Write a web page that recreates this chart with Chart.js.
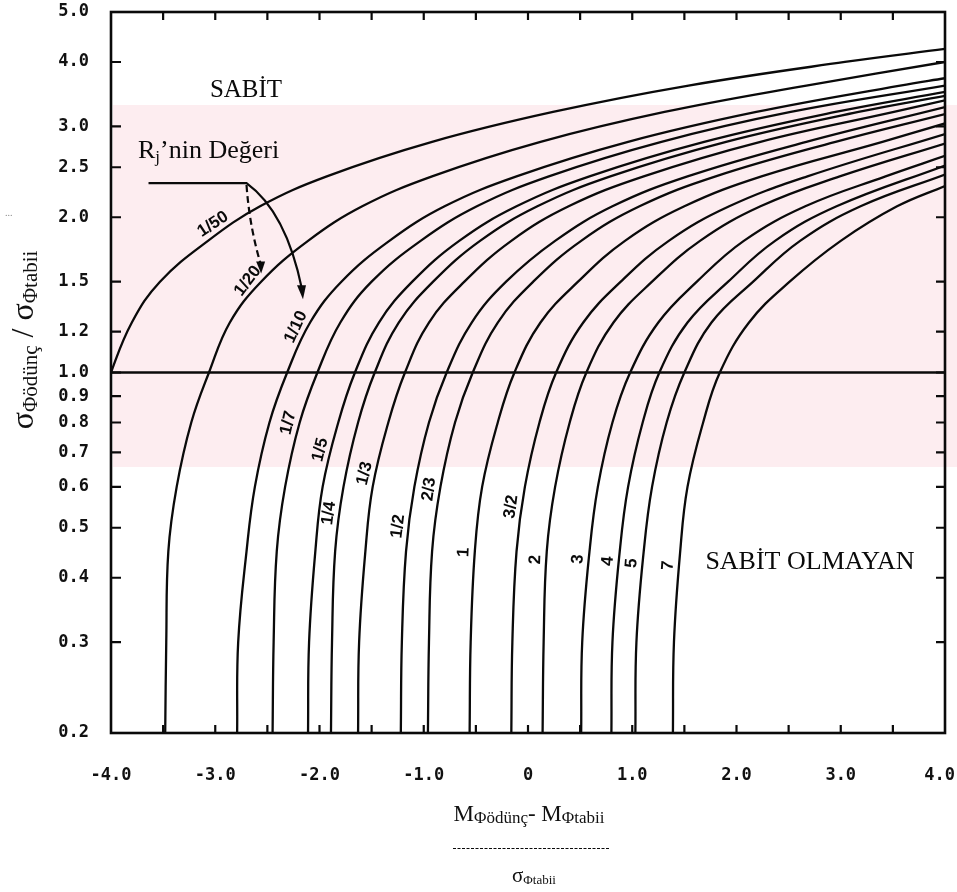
<!DOCTYPE html>
<html><head><meta charset="utf-8">
<script src="https://cdn.jsdelivr.net/npm/chart.js@4/dist/chart.umd.min.js"></script>
<style>html,body{margin:0;padding:0;background:#fff}#wrap{width:957px;height:892px}</style>
</head><body><div id="wrap"><canvas id="c" width="957" height="892"></canvas></div>
<script>
// ---- data ----
const rjLabels = ['1/50','1/20','1/10','1/7','1/5','1/4','1/3','1/2','2/3','1','3/2','2','3','4','5','7'];
const xTickValues = [-4,-3,-2,-1,0,1,2,3,4];
const xTickLabels = ['-4.0','-3.0','-2.0','-1.0','0','1.0','2.0','3.0','4.0'];
const xMinorTicks = [-3.5,-3,-2.5,-2,-1.5,-1,-0.5,0,0.5,1,1.5,2,2.5,3,3.5];
const yTickValues = [0.2,0.3,0.4,0.5,0.6,0.7,0.8,0.9,1.0,1.2,1.5,2.0,2.5,3.0,4.0,5.0];
const yTickLabels = ['0.2','0.3','0.4','0.5','0.6','0.7','0.8','0.9','1.0','1.2','1.5','2.0','2.5','3.0','4.0','5.0'];
const refLine = [[-4,1.0],[4,1.0]];

const rj_1_50 = [[-4.30,0.6],[-4.16,0.8],[-4.0,1.0],[-3.80,1.25],[-3.53,1.5],[-3.07,1.8],[-2.57,2.1],[-1.93,2.4],[-0.92,2.8],[0.24,3.2],[1.54,3.6],[3.04,4.0],[4.0,4.24]];
const rj_1_20 = [[-3.48,0.2],[-3.47,0.3],[-3.45,0.45],[-3.37,0.6],[-3.23,0.8],[-3.06,1.0],[-2.86,1.25],[-2.56,1.5],[-2.11,1.8],[-1.59,2.1],[-0.92,2.4],[0.12,2.8],[1.31,3.2],[2.67,3.6],[4.0,4.0]];
const rj_1_10 = [[-2.79,0.2],[-2.78,0.3],[-2.70,0.45],[-2.62,0.6],[-2.48,0.8],[-2.31,1.0],[-2.09,1.25],[-1.79,1.5],[-1.33,1.8],[-0.80,2.1],[-0.11,2.4],[0.96,2.8],[2.19,3.2],[3.57,3.6],[4.0,3.72]];
const rj_1_7 = [[-2.45,0.2],[-2.44,0.3],[-2.41,0.45],[-2.33,0.6],[-2.19,0.8],[-2.02,1.0],[-1.80,1.25],[-1.50,1.5],[-1.03,1.8],[-0.49,2.1],[0.20,2.4],[1.28,2.8],[2.52,3.2],[4.0,3.60]];
const rj_1_5 = [[-2.11,0.2],[-2.10,0.3],[-2.04,0.45],[-1.97,0.6],[-1.82,0.8],[-1.66,1.0],[-1.43,1.25],[-1.11,1.5],[-0.66,1.8],[-0.11,2.1],[0.59,2.4],[1.69,2.8],[2.95,3.2],[4.0,3.50]];
const rj_1_4 = [[-1.89,0.2],[-1.88,0.3],[-1.85,0.45],[-1.77,0.6],[-1.63,0.8],[-1.47,1.0],[-1.24,1.25],[-0.91,1.5],[-0.46,1.8],[0.09,2.1],[0.79,2.4],[1.90,2.8],[3.17,3.2],[4.0,3.44]];
const rj_1_3 = [[-1.63,0.2],[-1.62,0.3],[-1.56,0.45],[-1.49,0.6],[-1.34,0.8],[-1.18,1.0],[-0.95,1.25],[-0.61,1.5],[-0.16,1.8],[0.39,2.1],[1.11,2.4],[2.23,2.8],[3.51,3.2],[4.0,3.37]];
const rj_1_2 = [[-1.22,0.2],[-1.21,0.3],[-1.17,0.45],[-1.09,0.6],[-0.95,0.8],[-0.78,1.0],[-0.54,1.25],[-0.21,1.5],[0.26,1.8],[0.81,2.1],[1.53,2.4],[2.67,2.8],[4.0,3.27]];
const rj_2_3 = [[-0.96,0.2],[-0.95,0.3],[-0.92,0.45],[-0.84,0.6],[-0.70,0.8],[-0.53,1.0],[-0.29,1.25],[0.05,1.5],[0.51,1.8],[1.07,2.1],[1.80,2.4],[2.95,2.8],[4.0,3.17]];
const rj_1 = [[-0.56,0.2],[-0.55,0.3],[-0.51,0.45],[-0.44,0.6],[-0.29,0.8],[-0.13,1.0],[0.12,1.25],[0.48,1.5],[0.93,1.8],[1.50,2.1],[2.24,2.4],[3.40,2.8],[4.0,3.04]];
const rj_3_2 = [[-0.16,0.2],[-0.15,0.3],[-0.11,0.45],[-0.03,0.6],[0.11,0.8],[0.27,1.0],[0.53,1.25],[0.89,1.5],[1.35,1.8],[1.93,2.1],[2.68,2.4],[4.0,2.90]];
const rj_2 = [[0.14,0.2],[0.15,0.3],[0.18,0.45],[0.26,0.6],[0.40,0.8],[0.56,1.0],[0.82,1.25],[1.19,1.5],[1.65,1.8],[2.23,2.1],[2.99,2.4],[4.0,2.78]];
const rj_3 = [[0.51,0.2],[0.52,0.3],[0.59,0.45],[0.67,0.6],[0.81,0.8],[0.98,1.0],[1.25,1.25],[1.62,1.5],[2.07,1.8],[2.66,2.1],[3.43,2.4],[4.0,2.63]];
const rj_4 = [[0.80,0.2],[0.81,0.3],[0.88,0.45],[0.96,0.6],[1.10,0.8],[1.26,1.0],[1.53,1.25],[1.92,1.5],[2.37,1.8],[2.96,2.1],[4.0,2.52]];
const rj_5 = [[1.03,0.2],[1.04,0.3],[1.11,0.45],[1.19,0.6],[1.33,0.8],[1.50,1.0],[1.76,1.25],[2.16,1.5],[2.61,1.8],[3.19,2.1],[4.0,2.42]];
const rj_7 = [[1.39,0.2],[1.40,0.3],[1.46,0.45],[1.53,0.6],[1.68,0.8],[1.84,1.0],[2.12,1.25],[2.51,1.5],[3.00,1.8],[3.54,2.1],[4.0,2.30]];

const curves = [rj_1_50,rj_1_20,rj_1_10,rj_1_7,rj_1_5,rj_1_4,rj_1_3,rj_1_2,rj_2_3,rj_1,rj_3_2,rj_2,rj_3,rj_4,rj_5,rj_7];

// height (y value) at which each curve label sits beside its curve
const labelY = [1.86,1.46,1.20,0.79,0.70,0.53,0.63,0.50,0.59,0.447,0.546,0.433,0.433,0.429,0.425,0.421];

// ---- chart ----
const SERIF = '"Liberation Serif", "DejaVu Serif", serif';
const INK = '#0a0a0a';
const PINK = '#fdedf0';
const toPts = arr => arr.map(p => ({x:p[0], y:p[1]}));

const datasets = curves.map((c,i) => ({
  label: 'Rj = ' + rjLabels[i], data: toPts(c), showLine: true,
  borderColor: INK, borderWidth: 2.3, pointRadius: 0, tension: 0.4, fill: false
}));
datasets.push({label:'ref', data: toPts(refLine), showLine:true, borderColor:INK, borderWidth:2.3, pointRadius:0, tension:0});

function richText(ctx, parts, x, y, align) {
  let w = 0;
  parts.forEach(p => { ctx.font = p.font; p.w = ctx.measureText(p.t).width; w += p.w; });
  let cx = align === 'center' ? x - w/2 : (align === 'right' ? x - w : x);
  ctx.textAlign = 'left'; ctx.textBaseline = 'alphabetic';
  parts.forEach(p => { ctx.font = p.font; ctx.fillText(p.t, cx, y + (p.dy||0)); cx += p.w; });
}

// position on a curve (pixel) at a given y value, plus local direction
function onCurve(curve, yv, xs, ys) {
  for (let i = 0; i < curve.length - 1; i++) {
    const [x0,y0] = curve[i], [x1,y1] = curve[i+1];
    if (yv >= y0 && yv <= y1) {
      const t = (Math.log(yv) - Math.log(y0)) / (Math.log(y1) - Math.log(y0));
      const px0 = xs.getPixelForValue(x0), px1 = xs.getPixelForValue(x1);
      const py0 = ys.getPixelForValue(y0), py1 = ys.getPixelForValue(y1);
      return {px: px0 + t*(px1-px0), py: ys.getPixelForValue(yv), ang: Math.atan2(py1-py0, px1-px0)};
    }
  }
  return null;
}

const watermark = {
  id: 'watermark',
  beforeDatasetsDraw(chart) {
    const {ctx} = chart;
    ctx.save(); ctx.fillStyle = PINK; ctx.fillRect(113, 105, 844, 362); ctx.restore();
  }
};

const decor = {
  id: 'decor',
  afterDatasetsDraw(chart) {
    const {ctx, chartArea:a, scales:{x, y}} = chart;
    ctx.save();
    ctx.strokeStyle = INK; ctx.fillStyle = INK;

    // curve labels written just beside (left of) their curves
    ctx.font = 'bold 17px "Liberation Sans", sans-serif';
    rjLabels.forEach((t,i) => {
      const p = onCurve(curves[i], labelY[i], x, y);
      if (!p) return;
      ctx.save(); ctx.translate(p.px, p.py); ctx.rotate(p.ang);
      ctx.textAlign = 'center'; ctx.textBaseline = 'middle';
      ctx.fillText(t, 0, -11); ctx.restore();
    });

    // frame and inward ticks
    ctx.lineWidth = 2.6;
    ctx.strokeRect(a.left, a.top, a.right - a.left, a.bottom - a.top);
    ctx.lineWidth = 2.2;
    ctx.beginPath();
    yTickValues.forEach(v => {
      if (v <= 0.2 || v >= 5) return;
      const py = y.getPixelForValue(v);
      ctx.moveTo(a.left, py); ctx.lineTo(a.left + 10, py);
      ctx.moveTo(a.right, py); ctx.lineTo(a.right - 9, py);
    });
    xMinorTicks.forEach(v => {
      const px = x.getPixelForValue(v);
      ctx.moveTo(px, a.bottom); ctx.lineTo(px, a.bottom - 8);
      ctx.moveTo(px, a.top); ctx.lineTo(px, a.top + 8);
    });
    ctx.stroke();

    // x tick labels
    ctx.font = 'bold 17px "DejaVu Sans Mono", monospace';
    ctx.textAlign = 'center'; ctx.textBaseline = 'middle'; ctx.fillStyle = '#111';
    xTickValues.forEach((v,i) => {
      const w = ctx.measureText(xTickLabels[i]).width;
      const px = Math.min(x.getPixelForValue(v), 955 - w/2);
      ctx.fillText(xTickLabels[i], px, 776);
    });
    ctx.fillStyle = INK;

    // region texts
    ctx.font = '25px ' + SERIF; ctx.textAlign = 'center'; ctx.textBaseline = 'alphabetic';
    ctx.fillText('SABİT', x.getPixelForValue(-2.705), y.getPixelForValue(3.42));
    ctx.font = '26px ' + SERIF;
    ctx.fillText('SABİT OLMAYAN', x.getPixelForValue(2.705), y.getPixelForValue(0.416));
    richText(ctx, [
      {t:'R', font:'26px ' + SERIF},
      {t:'j', font:'17px ' + SERIF, dy:4},
      {t:'’nin Değeri', font:'26px ' + SERIF}
    ], x.getPixelForValue(-3.741), y.getPixelForValue(2.606), 'left');

    // pointer lines
    const hx0 = x.getPixelForValue(-3.64), hx1 = x.getPixelForValue(-2.70), hy = y.getPixelForValue(2.33);
    ctx.lineWidth = 2.2;
    ctx.beginPath(); ctx.moveTo(hx0, hy); ctx.lineTo(hx1, hy);
    const ex = x.getPixelForValue(-2.168), ey = y.getPixelForValue(1.40);
    ctx.quadraticCurveTo(x.getPixelForValue(-2.32), y.getPixelForValue(2.05), ex, ey - 8);
    ctx.stroke();
    ctx.beginPath(); ctx.moveTo(ex - 5, ey - 12); ctx.lineTo(ex + 4, ey - 12); ctx.lineTo(ex + 1, ey + 2); ctx.closePath(); ctx.fill();
    const dx1 = x.getPixelForValue(-2.56), dy1 = y.getPixelForValue(1.57);
    ctx.setLineDash([7,4]);
    ctx.beginPath(); ctx.moveTo(hx1, hy + 2); ctx.quadraticCurveTo(hx1 + 3, (hy + dy1)/2, dx1, dy1 - 6); ctx.stroke();
    ctx.setLineDash([]);
    ctx.beginPath(); ctx.moveTo(dx1 - 5, dy1 - 10); ctx.lineTo(dx1 + 4, dy1 - 10); ctx.lineTo(dx1, dy1 + 2); ctx.closePath(); ctx.fill();

    // axis titles
    ctx.fillStyle = '#111';
    richText(ctx, [
      {t:'M', font:'23px ' + SERIF},
      {t:'Φödünç', font:'17px ' + SERIF, dy:2},
      {t:'- ', font:'23px ' + SERIF},
      {t:'M', font:'23px ' + SERIF},
      {t:'Φtabii', font:'17px ' + SERIF, dy:2}
    ], 529, 821, 'center');
    ctx.lineWidth = 1.2; ctx.setLineDash([3,1.5]);
    ctx.beginPath(); ctx.moveTo(453, 848.5); ctx.lineTo(610, 848.5); ctx.stroke(); ctx.setLineDash([]);
    richText(ctx, [
      {t:'σ', font:'21px ' + SERIF},
      {t:'Φtabii', font:'13px ' + SERIF, dy:2}
    ], 534, 882, 'center');
    ctx.save(); ctx.translate(33, 340); ctx.rotate(-Math.PI/2);
    richText(ctx, [
      {t:'σ', font:'32px ' + SERIF},
      {t:'Φödünç', font:'21px ' + SERIF, dy:4},
      {t:' / ', font:'32px ' + SERIF},
      {t:'σ', font:'32px ' + SERIF},
      {t:'Φtabii', font:'21px ' + SERIF, dy:4}
    ], 0, 0, 'center');
    ctx.restore();
    ctx.fillStyle = '#888'; ctx.font = '10px ' + SERIF; ctx.textAlign = 'left';
    ctx.fillText('...', 5, 216);
    ctx.restore();
  }
};

new Chart(document.getElementById('c'), {
  type: 'scatter',
  data: { datasets },
  options: {
    responsive: false, animation: false, devicePixelRatio: 1,
    layout: { padding: { top: 12, right: 12, left: 0, bottom: 0 } },
    plugins: { legend: { display: false }, tooltip: { enabled: false } },
    scales: {
      x: {
        type: 'linear', min: -4, max: 4,
        grid: { display: false, drawTicks: false }, border: { display: false },
        afterBuildTicks: ax => { ax.ticks = xTickValues.map(v => ({value: v})); },
        afterFit: ax => { ax.height = 159; ax.paddingLeft = 0; ax.paddingRight = 0; },
        ticks: { display: false }
      },
      y: {
        type: 'logarithmic', min: 0.2, max: 5,
        grid: { display: false, drawTicks: false }, border: { display: false },
        afterBuildTicks: ax => { ax.ticks = yTickValues.map(v => ({value: v})); },
        afterFit: ax => { ax.width = 111; ax.paddingTop = 0; ax.paddingBottom = 0; },
        ticks: { padding: 22, color: '#111', autoSkip: false, font: { family: '"DejaVu Sans Mono", monospace', size: 17, weight: 'bold' },
          callback: (v) => { const i = yTickValues.findIndex(t => Math.abs(t - v) < 1e-9); return i < 0 ? '' : yTickLabels[i]; } }
      }
    }
  },
  plugins: [watermark, decor]
});
</script>
</body></html>
